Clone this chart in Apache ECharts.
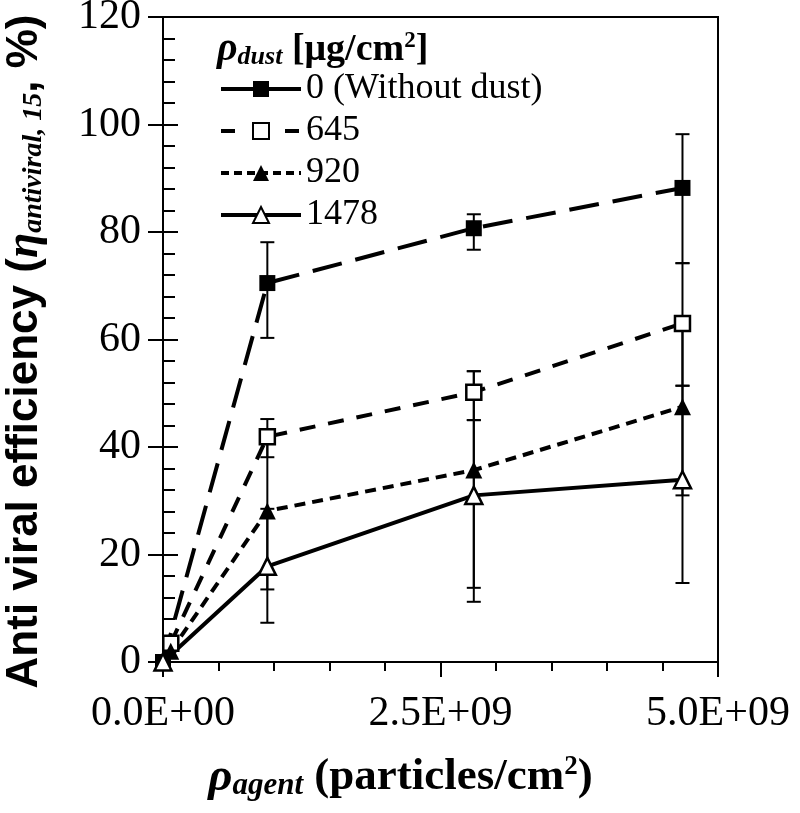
<!DOCTYPE html>
<html>
<head>
<meta charset="utf-8">
<script src="https://cdn.jsdelivr.net/npm/echarts@6/dist/echarts.min.js"></script>
<style>
  html, body { margin: 0; padding: 0; background: #fff; }
  #chart { width: 800px; height: 813px; }
</style>
</head>
<body>
<div id="chart"></div>
<script>
// agent density (particles/cm2) for each dust loading
const X_NODUST = [0, 0.94e9, 2.8e9, 4.68e9];
const X_645 = [0.07e9, 0.94e9, 2.8e9, 4.68e9];
const X_920 = [0.07e9, 0.94e9, 2.8e9, 4.68e9];
const X_1478 = [0, 0.94e9, 2.8e9, 4.68e9];

// anti viral efficiency (%)
const Y_NODUST = [0, 70.5, 80.7, 88.2];
const Y_645 = [3.5, 41.9, 50.2, 63.0];
const Y_920 = [2.0, 28.1, 35.7, 47.5];
const Y_1478 = [0, 17.8, 31.0, 33.9];

// error bar ends
const LO_NODUST = [0, 60.3, 76.7, 74.2];
const HI_NODUST = [0, 78.1, 83.3, 98.2];
const LO_645 = [3.5, 38.1, 45.0, 51.4];
const HI_645 = [3.5, 45.2, 54.1, 74.2];
const LO_920 = [2.0, 13.5, 11.2, 31.0];
const HI_920 = [2.0, 42.5, 54.1, 63.0];
const LO_1478 = [0, 7.3, 13.8, 14.7];
const HI_1478 = [0, 28.5, 45.0, 51.4];

const SERIES_NAMES = ["0 (Without dust)", "645", "920", "1478"];

const SERIF = "'Liberation Serif', 'Times New Roman', serif";
const SANS = "'Liberation Sans', Arial, sans-serif";

function sciLabel(v) {
  if (v === 0) return "0.0E+00";
  const e = Math.floor(Math.log10(v) + 1e-9);
  const m = v / Math.pow(10, e);
  return m.toFixed(1) + "E+" + String(e).padStart(2, "0");
}

function pairs(xs, ys) {
  return xs.map((x, i) => [x, ys[i]]);
}

function errData(xs, lo, hi) {
  return xs.map((x, i) => [x, lo[i], hi[i]]);
}

function renderErr(params, api) {
  const x = api.value(0);
  const top = api.coord([x, api.value(2)]);
  const bot = api.coord([x, api.value(1)]);
  if (Math.abs(top[1] - bot[1]) < 0.5) return null;
  const w = 7;
  const style = { stroke: "#000", lineWidth: 2 };
  return {
    type: "group",
    children: [
      { type: "line", shape: { x1: top[0], y1: top[1], x2: bot[0], y2: bot[1] }, style },
      { type: "line", shape: { x1: top[0] - w, y1: top[1], x2: top[0] + w, y2: top[1] }, style },
      { type: "line", shape: { x1: bot[0] - w, y1: bot[1], x2: bot[0] + w, y2: bot[1] }, style },
    ],
  };
}

function errSeries(xs, lo, hi) {
  return {
    type: "custom",
    renderItem: renderErr,
    data: errData(xs, lo, hi),
    encode: { x: 0, y: [1, 2] },
    z: 1,
    silent: true,
  };
}

const chart = echarts.init(document.getElementById("chart"), null, { renderer: "canvas" });

const tickLabel = { color: "#000", fontFamily: SERIF, fontSize: 42 };

chart.setOption({
  backgroundColor: "#fff",
  animation: false,
  grid: {
    left: 163,
    right: 82,
    top: 17,
    bottom: 151,
    show: true,
    borderColor: "#000",
    borderWidth: 2,
    containLabel: false,
    outerBoundsMode: "none",
  },
  title: {
    left: 212,
    top: 25,
    text: "{r|ρ}{s|dust}{n| [μg/cm}{sup|2}{n|]}",
    textStyle: {
      rich: {
        r: { fontFamily: SERIF, fontStyle: "italic", fontWeight: "bold", fontSize: 40, color: "#000" },
        s: { fontFamily: SERIF, fontStyle: "italic", fontWeight: "bold", fontSize: 26, color: "#000", verticalAlign: "bottom", padding: [14, 0, 0, 0] },
        n: { fontFamily: SERIF, fontWeight: "bold", fontSize: 38, color: "#000" },
        sup: { fontFamily: SERIF, fontWeight: "bold", fontSize: 23, color: "#000", verticalAlign: "top", padding: [0, 0, 14, 0] },
      },
    },
  },
  legend: {
    orient: "vertical",
    left: 214,
    top: 66,
    itemWidth: 80,
    itemHeight: 20,
    itemGap: 6,
    textStyle: { color: "#000", fontFamily: SERIF, fontSize: 36, padding: [0, 0, 0, 0] },
    data: [
      { name: SERIES_NAMES[0], lineStyle: { type: "solid", width: 4 } },
      { name: SERIES_NAMES[1], lineStyle: { type: [14, 18], width: 4 } },
      { name: SERIES_NAMES[2], lineStyle: { type: [8, 5], width: 4 } },
      { name: SERIES_NAMES[3], lineStyle: { type: "solid", width: 4 } },
    ],
  },
  xAxis: [
    {
      type: "value",
      min: 0,
      max: 5e9,
      interval: 2.5e9,
      axisLine: { lineStyle: { color: "#000", width: 2 } },
      axisTick: { inside: false, length: 15, lineStyle: { color: "#000", width: 2 } },
      axisLabel: Object.assign({ margin: 31, formatter: sciLabel }, tickLabel),
      splitLine: { show: false },
      name: "{r|ρ}{s|agent}{n| (particles/cm}{sup|2}{n|)}",
      nameLocation: "middle",
      nameGap: 92,
      nameTextStyle: {
        padding: [0, 80, 0, 0],
        rich: {
          r: { fontFamily: SERIF, fontStyle: "italic", fontWeight: "bold", fontSize: 47, color: "#000" },
          s: { fontFamily: SERIF, fontStyle: "italic", fontWeight: "bold", fontSize: 31, color: "#000", verticalAlign: "bottom", padding: [16, 0, 0, 0] },
          n: { fontFamily: SERIF, fontWeight: "bold", fontSize: 45, color: "#000" },
          sup: { fontFamily: SERIF, fontWeight: "bold", fontSize: 27, color: "#000", verticalAlign: "top", padding: [0, 0, 16, 0] },
        },
      },
    },
    {
      type: "value",
      min: 0,
      max: 5e9,
      interval: 2.5e9,
      axisLine: { show: false },
      axisTick: { inside: true, length: 15, lineStyle: { color: "#000", width: 2 } },
      minorTick: { show: true, splitNumber: 5, length: 9, lineStyle: { color: "#000", width: 2 } },
      axisLabel: { show: false },
      splitLine: { show: false },
    },
  ],
  yAxis: [
    {
      type: "value",
      min: 0,
      max: 120,
      interval: 20,
      axisLine: { lineStyle: { color: "#000", width: 2 } },
      axisTick: { inside: false, length: 15, lineStyle: { color: "#000", width: 2 } },
      axisLabel: Object.assign({ margin: 22 }, tickLabel),
      splitLine: { show: false },
      name: "{n|Anti viral efficiency (}{e|η}{s|antiviral, 15}{n|, %)}",
      nameLocation: "middle",
      nameRotate: 90,
      nameGap: 115,
      nameTextStyle: {
        padding: [0, 24, 0, 0],
        rich: {
          n: { fontFamily: SANS, fontWeight: "bold", fontSize: 44, color: "#000" },
          e: { fontFamily: SERIF, fontStyle: "italic", fontWeight: "bold", fontSize: 46, color: "#000" },
          s: { fontFamily: SERIF, fontStyle: "italic", fontWeight: "bold", fontSize: 28, color: "#000", verticalAlign: "bottom", padding: [15, 0, 0, 0] },
        },
      },
    },
    {
      type: "value",
      position: "left",
      min: 0,
      max: 120,
      interval: 20,
      axisLine: { show: false },
      axisTick: { inside: true, length: 15, lineStyle: { color: "#000", width: 2 } },
      minorTick: { show: true, splitNumber: 5, length: 12, lineStyle: { color: "#000", width: 2 } },
      axisLabel: { show: false },
      splitLine: { show: false },
    },
  ],
  series: [
    errSeries(X_NODUST, LO_NODUST, HI_NODUST),
    errSeries(X_645, LO_645, HI_645),
    errSeries(X_920, LO_920, HI_920),
    errSeries(X_1478, LO_1478, HI_1478),
    {
      name: SERIES_NAMES[0],
      type: "line",
      data: pairs(X_NODUST, Y_NODUST),
      symbol: "rect",
      symbolSize: 16,
      itemStyle: { color: "#000" },
      lineStyle: { color: "#000", width: 4, type: [30, 14] },
      z: 5,
    },
    {
      name: SERIES_NAMES[1],
      type: "line",
      data: pairs(X_645, Y_645),
      symbol: "rect",
      symbolSize: 15,
      itemStyle: { color: "#fff", borderColor: "#000", borderWidth: 2.5 },
      lineStyle: { color: "#000", width: 4, type: [16, 13] },
      z: 5,
    },
    {
      name: SERIES_NAMES[2],
      type: "line",
      data: pairs(X_920, Y_920),
      symbol: "triangle",
      symbolSize: 17,
      itemStyle: { color: "#000" },
      lineStyle: { color: "#000", width: 4, type: [11, 7] },
      z: 5,
    },
    {
      name: SERIES_NAMES[3],
      type: "line",
      data: pairs(X_1478, Y_1478),
      symbol: "triangle",
      symbolSize: 17,
      itemStyle: { color: "#fff", borderColor: "#000", borderWidth: 2.5 },
      lineStyle: { color: "#000", width: 4, type: "solid" },
      z: 5,
    },
  ],
});
</script>
</body>
</html>
